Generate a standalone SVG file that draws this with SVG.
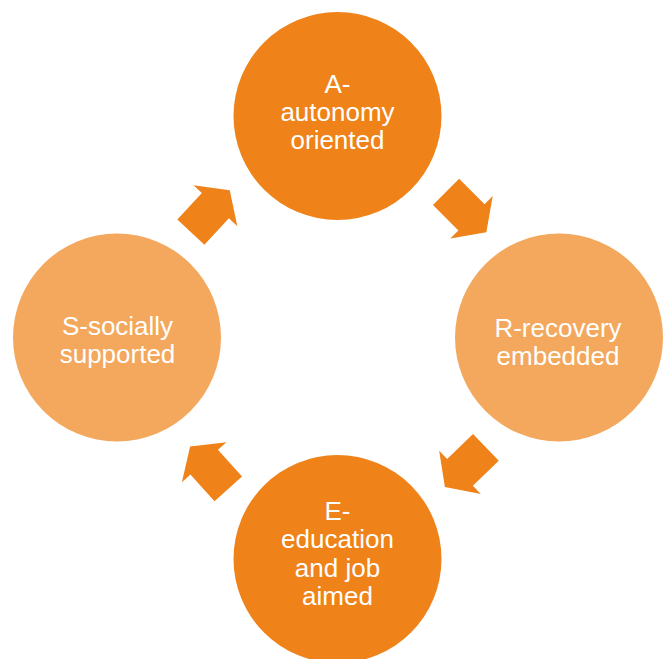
<svg xmlns="http://www.w3.org/2000/svg" width="666" height="659" viewBox="0 0 666 659">
  <style>
    .dark { fill: #EF8218; }
    .light { fill: #F3A85D; }
    .arrow { fill: #EF8218; }
    .label { font-family: "Liberation Sans", Arial, sans-serif; font-size: 26px; fill: #FFFFFF; text-anchor: middle; }
  </style>
  <defs>
    <polygon id="arr" points="-28.5,-18.5 7.5,-18.5 7.5,-30 28.5,0 7.5,30 7.5,18.5 -28.5,18.5"/>
  </defs>
  <rect width="666" height="659" fill="#FFFFFF"/>
  <g id="connectors">
    <use href="#arr" class="arrow" transform="translate(210.3,211.2) rotate(-47)"/>
    <use href="#arr" class="arrow" transform="translate(466.2,212) rotate(45)"/>
    <use href="#arr" class="arrow" transform="translate(465.4,467.2) rotate(136)"/>
    <use href="#arr" class="arrow" transform="translate(209.2,467.8) rotate(-132)"/>
  </g>
  <g id="node-a">
    <circle class="dark" cx="337.5" cy="116" r="104"/>
    <text class="label" x="337.5" y="92.7">A-</text>
    <text class="label" x="337.5" y="121">autonomy</text>
    <text class="label" x="337.5" y="149.3">oriented</text>
  </g>
  <g id="node-r">
    <circle class="light" cx="559" cy="337.5" r="104"/>
    <text class="label" x="558" y="336.7">R-recovery</text>
    <text class="label" x="558" y="365">embedded</text>
  </g>
  <g id="node-e">
    <circle class="dark" cx="337.5" cy="559" r="104"/>
    <text class="label" x="337.5" y="520">E-</text>
    <text class="label" x="337.5" y="548.3">education</text>
    <text class="label" x="337.5" y="576.6">and job</text>
    <text class="label" x="337.5" y="604.9">aimed</text>
  </g>
  <g id="node-s">
    <circle class="light" cx="117" cy="337.5" r="104"/>
    <text class="label" x="117.5" y="335">S-socially</text>
    <text class="label" x="117.5" y="363.3">supported</text>
  </g>
</svg>
